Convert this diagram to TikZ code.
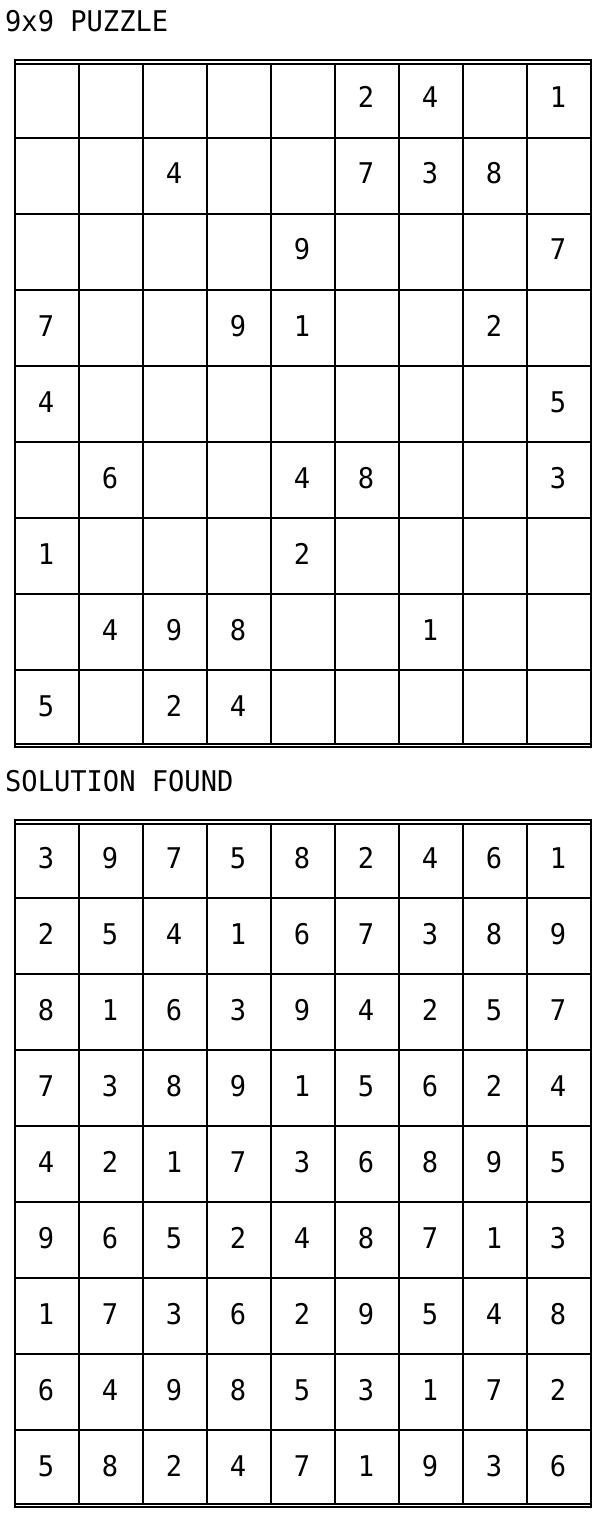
\documentclass[tikz,border=0pt]{standalone}
\usepackage{fontspec}
\newfontfamily\gridfont[FakeStretch=0.95]{DejaVu Sans Mono}
\begin{document}
\begin{tikzpicture}[x=1pt,y=-1pt,
  gridline/.style={line width=2.2pt},
  dblline/.style={line width=1.8pt},
  txt/.style={inner sep=0pt,font=\gridfont\fontsize{28.5}{31}\selectfont},
  cell/.style={txt,anchor=base}]
\fill[white] (0,0) rectangle (608,1514);
\useasboundingbox (0,0) rectangle (608,1514);
% titles
\node[txt,anchor=base west] (title1) at (5,31.7) {9x9 PUZZLE};
\node[txt,anchor=base west] (title2) at (5,791.9) {SOLUTION FOUND};
% grids
\foreach \off in {0,760}{
  \draw[dblline] (14,{60.2+\off}) -- (592,{60.2+\off});
  \draw[dblline] (14,{63.8+\off}) -- (592,{63.8+\off});
  \draw[dblline] (14,{743.7+\off}) -- (592,{743.7+\off});
  \draw[dblline] (14,{747.2+\off}) -- (592,{747.2+\off});
  \foreach \k in {0,...,7}
    \draw[gridline] (15,{137.7+76*\k+\off}) -- (591,{137.7+76*\k+\off});
  \foreach \k in {1,...,8}
    \draw[gridline] ({15+64*\k},{63.8+\off}) -- ({15+64*\k},{743.7+\off});
  \draw[gridline] (15,{59.3+\off}) -- (15,{748.1+\off});
  \draw[gridline] (591,{59.3+\off}) -- (591,{748.1+\off});
}
% puzzle digits (0 = blank)
\foreach \row [count=\r] in {
  {0,0,0,0,0,2,4,0,1},
  {0,0,4,0,0,7,3,8,0},
  {0,0,0,0,9,0,0,0,7},
  {7,0,0,9,1,0,0,2,0},
  {4,0,0,0,0,0,0,0,5},
  {0,6,0,0,4,8,0,0,3},
  {1,0,0,0,2,0,0,0,0},
  {0,4,9,8,0,0,1,0,0},
  {5,0,2,4,0,0,0,0,0}}{
  \foreach \v [count=\c] in \row {
    \ifnum\v>0
      \node[cell] (p-\r-\c) at ({15+64*\c-33},{108+76*(\r-1)}) {\v};
    \fi
  }
}
% solution digits
\foreach \row [count=\r] in {
  {3,9,7,5,8,2,4,6,1},
  {2,5,4,1,6,7,3,8,9},
  {8,1,6,3,9,4,2,5,7},
  {7,3,8,9,1,5,6,2,4},
  {4,2,1,7,3,6,8,9,5},
  {9,6,5,2,4,8,7,1,3},
  {1,7,3,6,2,9,5,4,8},
  {6,4,9,8,5,3,1,7,2},
  {5,8,2,4,7,1,9,3,6}}{
  \foreach \v [count=\c] in \row {
    \node[cell] (s-\r-\c) at ({15+64*\c-33},{868+76*(\r-1)}) {\v};
  }
}
\end{tikzpicture}
\end{document}
